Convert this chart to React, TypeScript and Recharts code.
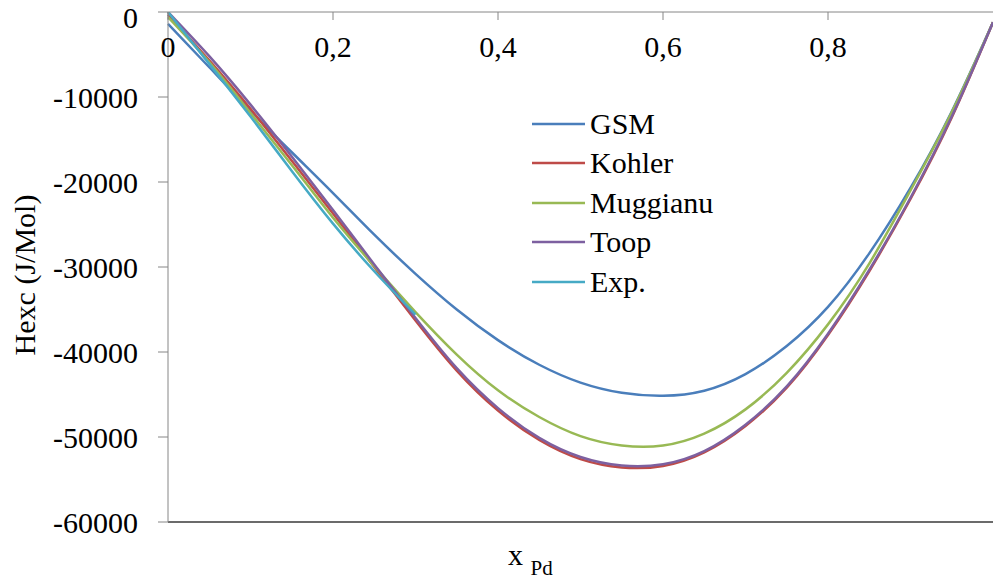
import {
  LineChart,
  Line,
  XAxis,
  YAxis,
  Legend,
  ReferenceLine,
} from "recharts";

const xValues = [0, 0.05, 0.1, 0.15, 0.2, 0.25, 0.3, 0.35, 0.4, 0.45, 0.5, 0.55, 0.6, 0.65, 0.7, 0.75, 0.8, 0.85, 0.9, 0.95, 1];

const gsm = [-1400, -6500, -11600, -16500, -21300, -26200, -30800, -35000, -38600, -41500, -43600, -44800, -45150, -44550, -42600, -39300, -34700, -28400, -20700, -11700, -1200];
const kohler = [-300, -5700, -11400, -17500, -23700, -30000, -36300, -42200, -46900, -50350, -52600, -53580, -53400, -51800, -48700, -44200, -38000, -30500, -22000, -12400, -1200];
const muggianu = [-600, -5900, -11900, -18000, -24200, -29900, -35300, -40300, -44500, -47650, -49900, -51000, -51000, -49600, -46750, -42450, -36750, -29600, -21000, -11800, -1200];
const toop = [0, -5200, -10900, -17000, -23300, -29700, -36000, -41900, -46600, -50100, -52350, -53350, -53200, -51650, -48550, -44050, -37850, -30350, -21850, -12300, -1200];
// experimental points only cover x <= 0.3
const exp = [0, -6100, -12300, -18700, -24900, -30500, -35600];

const seriesNames = ["GSM", "Kohler", "Muggianu", "Toop", "Exp."];
const xTicks = [0, 0.2, 0.4, 0.6, 0.8];
const yTicks = [-60000, -50000, -40000, -30000, -20000, -10000, 0];

const data = xValues.map((x, i) => ({
  x,
  gsm: gsm[i],
  kohler: kohler[i],
  muggianu: muggianu[i],
  toop: toop[i],
  exp: exp[i],
}));

const FONT = "'Liberation Serif', 'Times New Roman', serif";
const AXIS = "#868686";

const renderLegend = (props: any) => {
  const items = [...props.payload].sort(
    (a: any, b: any) => seriesNames.indexOf(a.value) - seriesNames.indexOf(b.value)
  );
  return (
    <div style={{ fontFamily: FONT, fontSize: 30, color: "#000" }}>
      {items.map((p: any) => (
        <div key={p.value} style={{ display: "flex", alignItems: "center", height: 39.5 }}>
          <svg width={58} height={10}>
            <line x1={0} y1={5} x2={53} y2={5} stroke={p.color} strokeWidth={2.5} />
          </svg>
          <span>{p.value}</span>
        </div>
      ))}
    </div>
  );
};

const YLabel = ({ viewBox }: any) => {
  const cy = viewBox.y + viewBox.height / 2 + 8;
  return (
    <text
      x={35}
      y={cy}
      transform={`rotate(-90 35 ${cy})`}
      textAnchor="middle"
      fontSize={30}
      fontFamily={FONT}
      fill="#000"
    >
      Hexc (J/Mol)
    </text>
  );
};

const XLabel = ({ viewBox }: any) => (
  <text x={viewBox.x + 340} y={viewBox.y + 43} fontSize={30} fontFamily={FONT} fill="#000">
    <tspan>x </tspan>
    <tspan fontSize={21} dy={10}>Pd</tspan>
  </text>
);

export default function App() {
  return (
    <div style={{ position: "absolute", left: 0, top: 0, fontFamily: FONT }}>
      <LineChart
        width={993}
        height={583}
        data={data}
        margin={{ top: 12, right: 0, bottom: 61, left: 0 }}
      >
        <XAxis
          dataKey="x"
          type="number"
          domain={[0, 1]}
          ticks={xTicks}
          orientation="top"
          mirror
          height={1}
          stroke={AXIS}
          tickSize={8}
          tickMargin={16}
          tickFormatter={(v: number) => String(v).replace(".", ",")}
          tick={{ fontSize: 30, fill: "#000", fontFamily: FONT }}
        />
        <YAxis
          type="number"
          domain={[-60000, 0]}
          ticks={yTicks}
          width={168}
          stroke={AXIS}
          tickSize={10}
          tickMargin={20}
          allowDataOverflow
          tick={{ fontSize: 30, fill: "#000", fontFamily: FONT }}
          label={<YLabel />}
        />
        <ReferenceLine y={-60000} stroke="#3a3a3a" strokeWidth={1.5} label={<XLabel />} />
        <Legend
          content={renderLegend}
          layout="vertical"
          align="center"
          verticalAlign="middle"
          wrapperStyle={{ left: 532, top: 104, width: "auto", height: "auto" }}
        />
        <Line name="GSM" dataKey="gsm" type="natural" stroke="#4a7ebb" strokeWidth={2.5} dot={false} isAnimationActive={false} />
        <Line name="Kohler" dataKey="kohler" type="natural" stroke="#be4b48" strokeWidth={2.5} dot={false} isAnimationActive={false} />
        <Line name="Muggianu" dataKey="muggianu" type="natural" stroke="#98b954" strokeWidth={2.5} dot={false} isAnimationActive={false} />
        <Line name="Toop" dataKey="toop" type="natural" stroke="#7d60a0" strokeWidth={2.5} dot={false} isAnimationActive={false} />
        <Line name="Exp." dataKey="exp" type="natural" stroke="#46aac5" strokeWidth={2.5} dot={false} isAnimationActive={false} />
      </LineChart>
    </div>
  );
}
